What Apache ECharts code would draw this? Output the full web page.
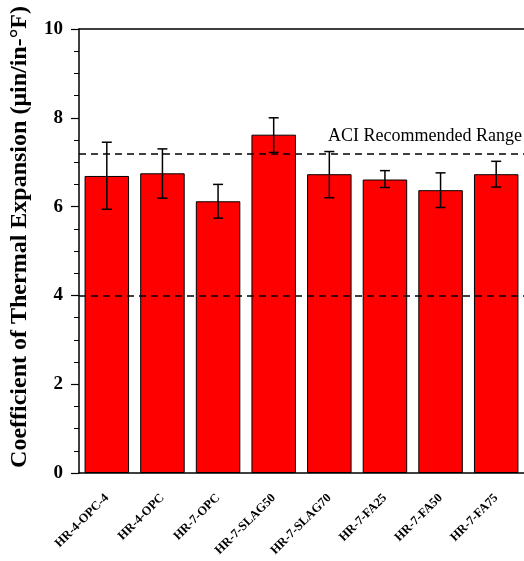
<!DOCTYPE html>
<html><head><meta charset="utf-8">
<script src="https://cdn.jsdelivr.net/npm/echarts@6/dist/echarts.min.js"></script>
<style>html,body{margin:0;padding:0;background:#fff}#c{width:524px;height:561px}</style>
</head><body><div id="c"></div>
<script>
const categories = ['HR-4-OPC-4','HR-4-OPC','HR-7-OPC','HR-7-SLAG50','HR-7-SLAG70','HR-7-FA25','HR-7-FA50','HR-7-FA75'];
const means = [6.69, 6.75, 6.12, 7.62, 6.73, 6.61, 6.37, 6.73];
const errUpper = [7.45, 7.30, 6.50, 8.00, 7.24, 6.81, 6.76, 7.02];
const errLower = [5.94, 6.19, 5.74, 7.22, 6.20, 6.43, 5.98, 6.44];
const aciRange = [4, 7.2];
const aciLabel = 'ACI Recommended Range';

const serif = '"Liberation Serif","Times New Roman",serif';
const chart = echarts.init(document.getElementById('c'));
const errData = categories.map((c, i) => [i, errLower[i], errUpper[i]]);
chart.setOption({
  animation: false,
  grid: {left: 79, right: 0, top: 29, bottom: 88},
  xAxis: [{
    type: 'category', data: categories,
    axisLine: {lineStyle: {color: '#000', width: 1.5}},
    axisTick: {alignWithLabel: true, length: 9, lineStyle: {color: '#000', width: 1.2}},
    axisLabel: {rotate: 45, interval: 0, margin: 23, padding: [12, 0, 0, 0], fontFamily: serif, fontWeight: 'bold', fontSize: 12.5, color: '#000'}
  }, {
    type: 'category', data: categories, position: 'top',
    axisLine: {show: true, lineStyle: {color: '#000', width: 1.5}},
    axisTick: {show: false}, axisLabel: {show: false}
  }],
  yAxis: {
    type: 'value', min: 0, max: 10, interval: 2,
    name: 'Coefficient of Thermal Expansion (\u03bcin/in-\u00b0F)',
    nameLocation: 'middle', nameGap: 47,
    nameTextStyle: {fontFamily: serif, fontWeight: 'bold', fontSize: 24, color: '#000', padding: [0, 0, 0, 28]},
    axisLine: {show: true, lineStyle: {color: '#000', width: 1.5}},
    axisTick: {show: true, length: 8, lineStyle: {color: '#000', width: 1.2}},
    minorTick: {show: true, splitNumber: 4, length: 5, lineStyle: {color: '#000', width: 1}},
    splitLine: {show: false},
    axisLabel: {margin: 16, fontFamily: serif, fontWeight: 'bold', fontSize: 19, color: '#000'}
  },
  series: [
    {
      type: 'bar', data: means, barCategoryGap: '20%',
      itemStyle: {color: '#ff0000', borderColor: '#000', borderWidth: 1},
      markLine: {
        silent: true, symbol: 'none', z: 10,
        lineStyle: {color: '#000', type: [7, 5], width: 1.5},
        data: [
          {yAxis: aciRange[0], label: {show: false}},
          {yAxis: aciRange[1], label: {show: true, formatter: aciLabel, position: 'insideEndTop', distance: [2, 8], fontFamily: serif, fontSize: 18, color: '#000'}}
        ]
      }
    },
    {
      type: 'custom', data: errData, z: 5,
      renderItem: function (params, api) {
        const x = api.value(0);
        const lo = api.coord([x, api.value(1)]);
        const hi = api.coord([x, api.value(2)]);
        const hw = 5;
        const st = {stroke: '#000', lineWidth: 1.5};
        return {type: 'group', children: [
          {type: 'line', shape: {x1: lo[0], y1: lo[1], x2: hi[0], y2: hi[1]}, style: st},
          {type: 'line', shape: {x1: lo[0]-hw, y1: lo[1], x2: lo[0]+hw, y2: lo[1]}, style: st},
          {type: 'line', shape: {x1: hi[0]-hw, y1: hi[1], x2: hi[0]+hw, y2: hi[1]}, style: st}
        ]};
      }
    }
  ]
});
</script></body></html>
